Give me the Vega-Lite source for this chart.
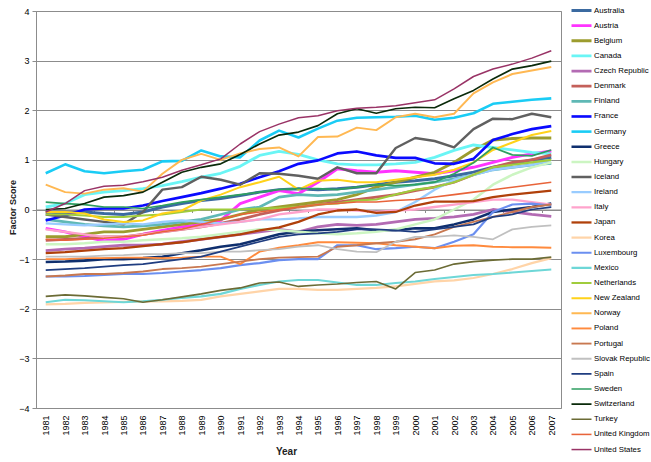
{
"$schema": "https://vega.github.io/schema/vega-lite/v6.json",
"width": 525, "height": 397,
"autosize": "none",
"padding": {"left": 36, "top": 11, "right": 90, "bottom": 54},
"background": "white",
"config": {"view": {"stroke": "#8c8c8c", "strokeWidth": 1}, "font": "Liberation Sans",
 "legend": {"orient": "none", "legendX": 534, "legendY": -8, "title": null, "symbolType": "stroke", "symbolSize": 400, "labelFontSize": 7.8, "labelColor": "#000", "clipHeight": 15, "rowPadding": 0.14, "labelOffset": 1, "padding": 0, "symbolLimit": 50, "labelLimit": 80}},
"data": {"values": [
{"country":"Australia","year":1981,"score":-0.05},{"country":"Australia","year":1982,"score":-0.07},{"country":"Australia","year":1983,"score":-0.05},{"country":"Australia","year":1984,"score":-0.08},{"country":"Australia","year":1985,"score":-0.1},{"country":"Australia","year":1986,"score":-0.05},{"country":"Australia","year":1987,"score":0.05},{"country":"Australia","year":1988,"score":0.12},{"country":"Australia","year":1989,"score":0.18},{"country":"Australia","year":1990,"score":0.22},{"country":"Australia","year":1991,"score":0.28},{"country":"Australia","year":1992,"score":0.35},{"country":"Australia","year":1993,"score":0.4},{"country":"Australia","year":1994,"score":0.42},{"country":"Australia","year":1995,"score":0.4},{"country":"Australia","year":1996,"score":0.42},{"country":"Australia","year":1997,"score":0.45},{"country":"Australia","year":1998,"score":0.5},{"country":"Australia","year":1999,"score":0.55},{"country":"Australia","year":2000,"score":0.58},{"country":"Australia","year":2001,"score":0.62},{"country":"Australia","year":2002,"score":0.68},{"country":"Australia","year":2003,"score":0.75},{"country":"Australia","year":2004,"score":0.85},{"country":"Australia","year":2005,"score":0.92},{"country":"Australia","year":2006,"score":1.0},{"country":"Australia","year":2007,"score":1.05},
{"country":"Austria","year":1981,"score":-0.38},{"country":"Austria","year":1982,"score":-0.45},{"country":"Austria","year":1983,"score":-0.55},{"country":"Austria","year":1984,"score":-0.63},{"country":"Austria","year":1985,"score":-0.6},{"country":"Austria","year":1986,"score":-0.5},{"country":"Austria","year":1987,"score":-0.42},{"country":"Austria","year":1988,"score":-0.35},{"country":"Austria","year":1989,"score":-0.3},{"country":"Austria","year":1990,"score":-0.22},{"country":"Austria","year":1991,"score":0.12},{"country":"Austria","year":1992,"score":0.25},{"country":"Austria","year":1993,"score":0.38},{"country":"Austria","year":1994,"score":0.32},{"country":"Austria","year":1995,"score":0.55},{"country":"Austria","year":1996,"score":0.82},{"country":"Austria","year":1997,"score":0.78},{"country":"Austria","year":1998,"score":0.75},{"country":"Austria","year":1999,"score":0.78},{"country":"Austria","year":2000,"score":0.75},{"country":"Austria","year":2001,"score":0.72},{"country":"Austria","year":2002,"score":0.78},{"country":"Austria","year":2003,"score":0.85},{"country":"Austria","year":2004,"score":0.95},{"country":"Austria","year":2005,"score":1.05},{"country":"Austria","year":2006,"score":1.12},{"country":"Austria","year":2007,"score":1.18},
{"country":"Belgium","year":1981,"score":-0.55},{"country":"Belgium","year":1982,"score":-0.55},{"country":"Belgium","year":1983,"score":-0.5},{"country":"Belgium","year":1984,"score":-0.45},{"country":"Belgium","year":1985,"score":-0.45},{"country":"Belgium","year":1986,"score":-0.4},{"country":"Belgium","year":1987,"score":-0.35},{"country":"Belgium","year":1988,"score":-0.3},{"country":"Belgium","year":1989,"score":-0.25},{"country":"Belgium","year":1990,"score":-0.2},{"country":"Belgium","year":1991,"score":-0.1},{"country":"Belgium","year":1992,"score":0.0},{"country":"Belgium","year":1993,"score":0.05},{"country":"Belgium","year":1994,"score":0.1},{"country":"Belgium","year":1995,"score":0.15},{"country":"Belgium","year":1996,"score":0.2},{"country":"Belgium","year":1997,"score":0.3},{"country":"Belgium","year":1998,"score":0.45},{"country":"Belgium","year":1999,"score":0.55},{"country":"Belgium","year":2000,"score":0.65},{"country":"Belgium","year":2001,"score":0.75},{"country":"Belgium","year":2002,"score":0.95},{"country":"Belgium","year":2003,"score":1.2},{"country":"Belgium","year":2004,"score":1.4},{"country":"Belgium","year":2005,"score":1.43},{"country":"Belgium","year":2006,"score":1.44},{"country":"Belgium","year":2007,"score":1.44},
{"country":"Canada","year":1981,"score":0.05},{"country":"Canada","year":1982,"score":0.12},{"country":"Canada","year":1983,"score":0.3},{"country":"Canada","year":1984,"score":0.35},{"country":"Canada","year":1985,"score":0.38},{"country":"Canada","year":1986,"score":0.42},{"country":"Canada","year":1987,"score":0.48},{"country":"Canada","year":1988,"score":0.56},{"country":"Canada","year":1989,"score":0.65},{"country":"Canada","year":1990,"score":0.73},{"country":"Canada","year":1991,"score":0.87},{"country":"Canada","year":1992,"score":1.09},{"country":"Canada","year":1993,"score":1.17},{"country":"Canada","year":1994,"score":1.11},{"country":"Canada","year":1995,"score":1.0},{"country":"Canada","year":1996,"score":0.92},{"country":"Canada","year":1997,"score":0.9},{"country":"Canada","year":1998,"score":0.9},{"country":"Canada","year":1999,"score":0.92},{"country":"Canada","year":2000,"score":0.95},{"country":"Canada","year":2001,"score":1.05},{"country":"Canada","year":2002,"score":1.19},{"country":"Canada","year":2003,"score":1.3},{"country":"Canada","year":2004,"score":1.25},{"country":"Canada","year":2005,"score":1.2},{"country":"Canada","year":2006,"score":1.15},{"country":"Canada","year":2007,"score":1.12},
{"country":"Czech Republic","year":1981,"score":-0.83},{"country":"Czech Republic","year":1982,"score":-0.8},{"country":"Czech Republic","year":1983,"score":-0.78},{"country":"Czech Republic","year":1984,"score":-0.75},{"country":"Czech Republic","year":1985,"score":-0.72},{"country":"Czech Republic","year":1986,"score":-0.72},{"country":"Czech Republic","year":1987,"score":-0.7},{"country":"Czech Republic","year":1988,"score":-0.65},{"country":"Czech Republic","year":1989,"score":-0.6},{"country":"Czech Republic","year":1990,"score":-0.55},{"country":"Czech Republic","year":1991,"score":-0.5},{"country":"Czech Republic","year":1992,"score":-0.45},{"country":"Czech Republic","year":1993,"score":-0.4},{"country":"Czech Republic","year":1994,"score":-0.45},{"country":"Czech Republic","year":1995,"score":-0.35},{"country":"Czech Republic","year":1996,"score":-0.3},{"country":"Czech Republic","year":1997,"score":-0.32},{"country":"Czech Republic","year":1998,"score":-0.3},{"country":"Czech Republic","year":1999,"score":-0.25},{"country":"Czech Republic","year":2000,"score":-0.2},{"country":"Czech Republic","year":2001,"score":-0.18},{"country":"Czech Republic","year":2002,"score":-0.15},{"country":"Czech Republic","year":2003,"score":-0.1},{"country":"Czech Republic","year":2004,"score":0.0},{"country":"Czech Republic","year":2005,"score":-0.05},{"country":"Czech Republic","year":2006,"score":-0.1},{"country":"Czech Republic","year":2007,"score":-0.14},
{"country":"Denmark","year":1981,"score":-0.62},{"country":"Denmark","year":1982,"score":-0.6},{"country":"Denmark","year":1983,"score":-0.58},{"country":"Denmark","year":1984,"score":-0.55},{"country":"Denmark","year":1985,"score":-0.55},{"country":"Denmark","year":1986,"score":-0.5},{"country":"Denmark","year":1987,"score":-0.45},{"country":"Denmark","year":1988,"score":-0.4},{"country":"Denmark","year":1989,"score":-0.35},{"country":"Denmark","year":1990,"score":-0.28},{"country":"Denmark","year":1991,"score":-0.2},{"country":"Denmark","year":1992,"score":-0.1},{"country":"Denmark","year":1993,"score":-0.02},{"country":"Denmark","year":1994,"score":0.05},{"country":"Denmark","year":1995,"score":0.1},{"country":"Denmark","year":1996,"score":0.15},{"country":"Denmark","year":1997,"score":0.2},{"country":"Denmark","year":1998,"score":0.25},{"country":"Denmark","year":1999,"score":0.3},{"country":"Denmark","year":2000,"score":0.38},{"country":"Denmark","year":2001,"score":0.45},{"country":"Denmark","year":2002,"score":0.55},{"country":"Denmark","year":2003,"score":0.7},{"country":"Denmark","year":2004,"score":0.85},{"country":"Denmark","year":2005,"score":0.95},{"country":"Denmark","year":2006,"score":1.0},{"country":"Denmark","year":2007,"score":1.1},
{"country":"Finland","year":1981,"score":-0.2},{"country":"Finland","year":1982,"score":-0.25},{"country":"Finland","year":1983,"score":-0.3},{"country":"Finland","year":1984,"score":-0.33},{"country":"Finland","year":1985,"score":-0.35},{"country":"Finland","year":1986,"score":-0.33},{"country":"Finland","year":1987,"score":-0.3},{"country":"Finland","year":1988,"score":-0.25},{"country":"Finland","year":1989,"score":-0.2},{"country":"Finland","year":1990,"score":-0.1},{"country":"Finland","year":1991,"score":0.0},{"country":"Finland","year":1992,"score":0.05},{"country":"Finland","year":1993,"score":0.25},{"country":"Finland","year":1994,"score":0.3},{"country":"Finland","year":1995,"score":0.28},{"country":"Finland","year":1996,"score":0.3},{"country":"Finland","year":1997,"score":0.35},{"country":"Finland","year":1998,"score":0.4},{"country":"Finland","year":1999,"score":0.45},{"country":"Finland","year":2000,"score":0.5},{"country":"Finland","year":2001,"score":0.55},{"country":"Finland","year":2002,"score":0.62},{"country":"Finland","year":2003,"score":0.7},{"country":"Finland","year":2004,"score":0.8},{"country":"Finland","year":2005,"score":0.85},{"country":"Finland","year":2006,"score":0.9},{"country":"Finland","year":2007,"score":0.93},
{"country":"France","year":1981,"score":-0.22},{"country":"France","year":1982,"score":-0.12},{"country":"France","year":1983,"score":0.0},{"country":"France","year":1984,"score":0.02},{"country":"France","year":1985,"score":0.02},{"country":"France","year":1986,"score":0.08},{"country":"France","year":1987,"score":0.17},{"country":"France","year":1988,"score":0.25},{"country":"France","year":1989,"score":0.33},{"country":"France","year":1990,"score":0.42},{"country":"France","year":1991,"score":0.52},{"country":"France","year":1992,"score":0.65},{"country":"France","year":1993,"score":0.77},{"country":"France","year":1994,"score":0.92},{"country":"France","year":1995,"score":0.99},{"country":"France","year":1996,"score":1.13},{"country":"France","year":1997,"score":1.17},{"country":"France","year":1998,"score":1.09},{"country":"France","year":1999,"score":1.04},{"country":"France","year":2000,"score":1.04},{"country":"France","year":2001,"score":0.93},{"country":"France","year":2002,"score":0.92},{"country":"France","year":2003,"score":1.02},{"country":"France","year":2004,"score":1.4},{"country":"France","year":2005,"score":1.52},{"country":"France","year":2006,"score":1.62},{"country":"France","year":2007,"score":1.68},
{"country":"Germany","year":1981,"score":0.73},{"country":"Germany","year":1982,"score":0.91},{"country":"Germany","year":1983,"score":0.77},{"country":"Germany","year":1984,"score":0.73},{"country":"Germany","year":1985,"score":0.77},{"country":"Germany","year":1986,"score":0.8},{"country":"Germany","year":1987,"score":0.97},{"country":"Germany","year":1988,"score":0.98},{"country":"Germany","year":1989,"score":1.19},{"country":"Germany","year":1990,"score":1.07},{"country":"Germany","year":1991,"score":1.05},{"country":"Germany","year":1992,"score":1.39},{"country":"Germany","year":1993,"score":1.59},{"country":"Germany","year":1994,"score":1.45},{"country":"Germany","year":1995,"score":1.63},{"country":"Germany","year":1996,"score":1.79},{"country":"Germany","year":1997,"score":1.85},{"country":"Germany","year":1998,"score":1.86},{"country":"Germany","year":1999,"score":1.87},{"country":"Germany","year":2000,"score":1.89},{"country":"Germany","year":2001,"score":1.81},{"country":"Germany","year":2002,"score":1.85},{"country":"Germany","year":2003,"score":1.94},{"country":"Germany","year":2004,"score":2.13},{"country":"Germany","year":2005,"score":2.17},{"country":"Germany","year":2006,"score":2.21},{"country":"Germany","year":2007,"score":2.24},
{"country":"Greece","year":1981,"score":-1.06},{"country":"Greece","year":1982,"score":-1.05},{"country":"Greece","year":1983,"score":-1.03},{"country":"Greece","year":1984,"score":-1.0},{"country":"Greece","year":1985,"score":-1.0},{"country":"Greece","year":1986,"score":-0.98},{"country":"Greece","year":1987,"score":-0.95},{"country":"Greece","year":1988,"score":-0.88},{"country":"Greece","year":1989,"score":-0.82},{"country":"Greece","year":1990,"score":-0.75},{"country":"Greece","year":1991,"score":-0.7},{"country":"Greece","year":1992,"score":-0.6},{"country":"Greece","year":1993,"score":-0.5},{"country":"Greece","year":1994,"score":-0.45},{"country":"Greece","year":1995,"score":-0.42},{"country":"Greece","year":1996,"score":-0.4},{"country":"Greece","year":1997,"score":-0.38},{"country":"Greece","year":1998,"score":-0.42},{"country":"Greece","year":1999,"score":-0.42},{"country":"Greece","year":2000,"score":-0.38},{"country":"Greece","year":2001,"score":-0.38},{"country":"Greece","year":2002,"score":-0.3},{"country":"Greece","year":2003,"score":-0.2},{"country":"Greece","year":2004,"score":-0.05},{"country":"Greece","year":2005,"score":0.0},{"country":"Greece","year":2006,"score":0.05},{"country":"Greece","year":2007,"score":0.12},
{"country":"Hungary","year":1981,"score":-0.7},{"country":"Hungary","year":1982,"score":-0.7},{"country":"Hungary","year":1983,"score":-0.68},{"country":"Hungary","year":1984,"score":-0.65},{"country":"Hungary","year":1985,"score":-0.65},{"country":"Hungary","year":1986,"score":-0.62},{"country":"Hungary","year":1987,"score":-0.6},{"country":"Hungary","year":1988,"score":-0.58},{"country":"Hungary","year":1989,"score":-0.55},{"country":"Hungary","year":1990,"score":-0.5},{"country":"Hungary","year":1991,"score":-0.45},{"country":"Hungary","year":1992,"score":-0.4},{"country":"Hungary","year":1993,"score":-0.42},{"country":"Hungary","year":1994,"score":-0.45},{"country":"Hungary","year":1995,"score":-0.48},{"country":"Hungary","year":1996,"score":-0.5},{"country":"Hungary","year":1997,"score":-0.48},{"country":"Hungary","year":1998,"score":-0.45},{"country":"Hungary","year":1999,"score":-0.4},{"country":"Hungary","year":2000,"score":-0.3},{"country":"Hungary","year":2001,"score":-0.2},{"country":"Hungary","year":2002,"score":0.0},{"country":"Hungary","year":2003,"score":0.2},{"country":"Hungary","year":2004,"score":0.5},{"country":"Hungary","year":2005,"score":0.7},{"country":"Hungary","year":2006,"score":0.85},{"country":"Hungary","year":2007,"score":0.95},
{"country":"Iceland","year":1981,"score":-0.1},{"country":"Iceland","year":1982,"score":-0.15},{"country":"Iceland","year":1983,"score":-0.2},{"country":"Iceland","year":1984,"score":-0.25},{"country":"Iceland","year":1985,"score":-0.3},{"country":"Iceland","year":1986,"score":-0.05},{"country":"Iceland","year":1987,"score":0.4},{"country":"Iceland","year":1988,"score":0.45},{"country":"Iceland","year":1989,"score":0.66},{"country":"Iceland","year":1990,"score":0.6},{"country":"Iceland","year":1991,"score":0.5},{"country":"Iceland","year":1992,"score":0.73},{"country":"Iceland","year":1993,"score":0.72},{"country":"Iceland","year":1994,"score":0.68},{"country":"Iceland","year":1995,"score":0.62},{"country":"Iceland","year":1996,"score":0.85},{"country":"Iceland","year":1997,"score":0.73},{"country":"Iceland","year":1998,"score":0.73},{"country":"Iceland","year":1999,"score":1.24},{"country":"Iceland","year":2000,"score":1.44},{"country":"Iceland","year":2001,"score":1.38},{"country":"Iceland","year":2002,"score":1.25},{"country":"Iceland","year":2003,"score":1.62},{"country":"Iceland","year":2004,"score":1.83},{"country":"Iceland","year":2005,"score":1.82},{"country":"Iceland","year":2006,"score":1.93},{"country":"Iceland","year":2007,"score":1.86},
{"country":"Ireland","year":1981,"score":-0.28},{"country":"Ireland","year":1982,"score":-0.3},{"country":"Ireland","year":1983,"score":-0.32},{"country":"Ireland","year":1984,"score":-0.3},{"country":"Ireland","year":1985,"score":-0.28},{"country":"Ireland","year":1986,"score":-0.3},{"country":"Ireland","year":1987,"score":-0.25},{"country":"Ireland","year":1988,"score":-0.22},{"country":"Ireland","year":1989,"score":-0.25},{"country":"Ireland","year":1990,"score":-0.28},{"country":"Ireland","year":1991,"score":-0.25},{"country":"Ireland","year":1992,"score":-0.2},{"country":"Ireland","year":1993,"score":-0.2},{"country":"Ireland","year":1994,"score":-0.18},{"country":"Ireland","year":1995,"score":-0.15},{"country":"Ireland","year":1996,"score":-0.15},{"country":"Ireland","year":1997,"score":-0.15},{"country":"Ireland","year":1998,"score":-0.12},{"country":"Ireland","year":1999,"score":-0.05},{"country":"Ireland","year":2000,"score":0.15},{"country":"Ireland","year":2001,"score":0.4},{"country":"Ireland","year":2002,"score":0.6},{"country":"Ireland","year":2003,"score":0.7},{"country":"Ireland","year":2004,"score":0.8},{"country":"Ireland","year":2005,"score":0.85},{"country":"Ireland","year":2006,"score":0.9},{"country":"Ireland","year":2007,"score":1.0},
{"country":"Italy","year":1981,"score":-0.4},{"country":"Italy","year":1982,"score":-0.45},{"country":"Italy","year":1983,"score":-0.5},{"country":"Italy","year":1984,"score":-0.55},{"country":"Italy","year":1985,"score":-0.55},{"country":"Italy","year":1986,"score":-0.5},{"country":"Italy","year":1987,"score":-0.45},{"country":"Italy","year":1988,"score":-0.4},{"country":"Italy","year":1989,"score":-0.35},{"country":"Italy","year":1990,"score":-0.3},{"country":"Italy","year":1991,"score":-0.25},{"country":"Italy","year":1992,"score":-0.2},{"country":"Italy","year":1993,"score":-0.1},{"country":"Italy","year":1994,"score":-0.05},{"country":"Italy","year":1995,"score":0.0},{"country":"Italy","year":1996,"score":0.0},{"country":"Italy","year":1997,"score":-0.02},{"country":"Italy","year":1998,"score":-0.05},{"country":"Italy","year":1999,"score":-0.02},{"country":"Italy","year":2000,"score":0.0},{"country":"Italy","year":2001,"score":0.05},{"country":"Italy","year":2002,"score":0.1},{"country":"Italy","year":2003,"score":0.15},{"country":"Italy","year":2004,"score":0.2},{"country":"Italy","year":2005,"score":0.2},{"country":"Italy","year":2006,"score":0.15},{"country":"Italy","year":2007,"score":0.1},
{"country":"Japan","year":1981,"score":-0.88},{"country":"Japan","year":1982,"score":-0.86},{"country":"Japan","year":1983,"score":-0.83},{"country":"Japan","year":1984,"score":-0.8},{"country":"Japan","year":1985,"score":-0.78},{"country":"Japan","year":1986,"score":-0.74},{"country":"Japan","year":1987,"score":-0.7},{"country":"Japan","year":1988,"score":-0.66},{"country":"Japan","year":1989,"score":-0.6},{"country":"Japan","year":1990,"score":-0.55},{"country":"Japan","year":1991,"score":-0.5},{"country":"Japan","year":1992,"score":-0.42},{"country":"Japan","year":1993,"score":-0.36},{"country":"Japan","year":1994,"score":-0.25},{"country":"Japan","year":1995,"score":-0.1},{"country":"Japan","year":1996,"score":-0.02},{"country":"Japan","year":1997,"score":0.0},{"country":"Japan","year":1998,"score":-0.07},{"country":"Japan","year":1999,"score":-0.05},{"country":"Japan","year":2000,"score":0.08},{"country":"Japan","year":2001,"score":0.16},{"country":"Japan","year":2002,"score":0.16},{"country":"Japan","year":2003,"score":0.17},{"country":"Japan","year":2004,"score":0.25},{"country":"Japan","year":2005,"score":0.3},{"country":"Japan","year":2006,"score":0.34},{"country":"Japan","year":2007,"score":0.38},
{"country":"Korea","year":1981,"score":-1.91},{"country":"Korea","year":1982,"score":-1.9},{"country":"Korea","year":1983,"score":-1.88},{"country":"Korea","year":1984,"score":-1.87},{"country":"Korea","year":1985,"score":-1.86},{"country":"Korea","year":1986,"score":-1.85},{"country":"Korea","year":1987,"score":-1.85},{"country":"Korea","year":1988,"score":-1.84},{"country":"Korea","year":1989,"score":-1.82},{"country":"Korea","year":1990,"score":-1.75},{"country":"Korea","year":1991,"score":-1.7},{"country":"Korea","year":1992,"score":-1.65},{"country":"Korea","year":1993,"score":-1.6},{"country":"Korea","year":1994,"score":-1.6},{"country":"Korea","year":1995,"score":-1.62},{"country":"Korea","year":1996,"score":-1.62},{"country":"Korea","year":1997,"score":-1.6},{"country":"Korea","year":1998,"score":-1.58},{"country":"Korea","year":1999,"score":-1.55},{"country":"Korea","year":2000,"score":-1.5},{"country":"Korea","year":2001,"score":-1.45},{"country":"Korea","year":2002,"score":-1.43},{"country":"Korea","year":2003,"score":-1.38},{"country":"Korea","year":2004,"score":-1.3},{"country":"Korea","year":2005,"score":-1.2},{"country":"Korea","year":2006,"score":-1.08},{"country":"Korea","year":2007,"score":-0.98},
{"country":"Luxembourg","year":1981,"score":-1.35},{"country":"Luxembourg","year":1982,"score":-1.35},{"country":"Luxembourg","year":1983,"score":-1.34},{"country":"Luxembourg","year":1984,"score":-1.32},{"country":"Luxembourg","year":1985,"score":-1.3},{"country":"Luxembourg","year":1986,"score":-1.3},{"country":"Luxembourg","year":1987,"score":-1.28},{"country":"Luxembourg","year":1988,"score":-1.25},{"country":"Luxembourg","year":1989,"score":-1.22},{"country":"Luxembourg","year":1990,"score":-1.18},{"country":"Luxembourg","year":1991,"score":-1.12},{"country":"Luxembourg","year":1992,"score":-1.08},{"country":"Luxembourg","year":1993,"score":-1.02},{"country":"Luxembourg","year":1994,"score":-1.0},{"country":"Luxembourg","year":1995,"score":-1.0},{"country":"Luxembourg","year":1996,"score":-0.72},{"country":"Luxembourg","year":1997,"score":-0.72},{"country":"Luxembourg","year":1998,"score":-0.8},{"country":"Luxembourg","year":1999,"score":-0.78},{"country":"Luxembourg","year":2000,"score":-0.75},{"country":"Luxembourg","year":2001,"score":-0.78},{"country":"Luxembourg","year":2002,"score":-0.65},{"country":"Luxembourg","year":2003,"score":-0.5},{"country":"Luxembourg","year":2004,"score":-0.05},{"country":"Luxembourg","year":2005,"score":0.1},{"country":"Luxembourg","year":2006,"score":0.12},{"country":"Luxembourg","year":2007,"score":0.08},
{"country":"Mexico","year":1981,"score":-1.87},{"country":"Mexico","year":1982,"score":-1.82},{"country":"Mexico","year":1983,"score":-1.83},{"country":"Mexico","year":1984,"score":-1.85},{"country":"Mexico","year":1985,"score":-1.87},{"country":"Mexico","year":1986,"score":-1.85},{"country":"Mexico","year":1987,"score":-1.82},{"country":"Mexico","year":1988,"score":-1.78},{"country":"Mexico","year":1989,"score":-1.75},{"country":"Mexico","year":1990,"score":-1.7},{"country":"Mexico","year":1991,"score":-1.6},{"country":"Mexico","year":1992,"score":-1.52},{"country":"Mexico","year":1993,"score":-1.45},{"country":"Mexico","year":1994,"score":-1.42},{"country":"Mexico","year":1995,"score":-1.42},{"country":"Mexico","year":1996,"score":-1.47},{"country":"Mexico","year":1997,"score":-1.52},{"country":"Mexico","year":1998,"score":-1.52},{"country":"Mexico","year":1999,"score":-1.48},{"country":"Mexico","year":2000,"score":-1.45},{"country":"Mexico","year":2001,"score":-1.4},{"country":"Mexico","year":2002,"score":-1.36},{"country":"Mexico","year":2003,"score":-1.32},{"country":"Mexico","year":2004,"score":-1.3},{"country":"Mexico","year":2005,"score":-1.27},{"country":"Mexico","year":2006,"score":-1.24},{"country":"Mexico","year":2007,"score":-1.21},
{"country":"Netherlands","year":1981,"score":-0.1},{"country":"Netherlands","year":1982,"score":-0.1},{"country":"Netherlands","year":1983,"score":-0.12},{"country":"Netherlands","year":1984,"score":-0.15},{"country":"Netherlands","year":1985,"score":-0.15},{"country":"Netherlands","year":1986,"score":-0.12},{"country":"Netherlands","year":1987,"score":-0.1},{"country":"Netherlands","year":1988,"score":-0.05},{"country":"Netherlands","year":1989,"score":0.0},{"country":"Netherlands","year":1990,"score":0.0},{"country":"Netherlands","year":1991,"score":0.0},{"country":"Netherlands","year":1992,"score":0.02},{"country":"Netherlands","year":1993,"score":0.03},{"country":"Netherlands","year":1994,"score":0.05},{"country":"Netherlands","year":1995,"score":0.1},{"country":"Netherlands","year":1996,"score":0.12},{"country":"Netherlands","year":1997,"score":0.18},{"country":"Netherlands","year":1998,"score":0.2},{"country":"Netherlands","year":1999,"score":0.3},{"country":"Netherlands","year":2000,"score":0.4},{"country":"Netherlands","year":2001,"score":0.45},{"country":"Netherlands","year":2002,"score":0.55},{"country":"Netherlands","year":2003,"score":0.7},{"country":"Netherlands","year":2004,"score":0.85},{"country":"Netherlands","year":2005,"score":0.9},{"country":"Netherlands","year":2006,"score":0.95},{"country":"Netherlands","year":2007,"score":1.0},
{"country":"New Zealand","year":1981,"score":-0.05},{"country":"New Zealand","year":1982,"score":-0.05},{"country":"New Zealand","year":1983,"score":-0.08},{"country":"New Zealand","year":1984,"score":-0.2},{"country":"New Zealand","year":1985,"score":-0.25},{"country":"New Zealand","year":1986,"score":-0.22},{"country":"New Zealand","year":1987,"score":-0.08},{"country":"New Zealand","year":1988,"score":-0.02},{"country":"New Zealand","year":1989,"score":0.18},{"country":"New Zealand","year":1990,"score":0.3},{"country":"New Zealand","year":1991,"score":0.45},{"country":"New Zealand","year":1992,"score":0.55},{"country":"New Zealand","year":1993,"score":0.66},{"country":"New Zealand","year":1994,"score":0.4},{"country":"New Zealand","year":1995,"score":0.58},{"country":"New Zealand","year":1996,"score":0.6},{"country":"New Zealand","year":1997,"score":0.55},{"country":"New Zealand","year":1998,"score":0.55},{"country":"New Zealand","year":1999,"score":0.6},{"country":"New Zealand","year":2000,"score":0.65},{"country":"New Zealand","year":2001,"score":0.7},{"country":"New Zealand","year":2002,"score":0.8},{"country":"New Zealand","year":2003,"score":0.95},{"country":"New Zealand","year":2004,"score":1.2},{"country":"New Zealand","year":2005,"score":1.35},{"country":"New Zealand","year":2006,"score":1.5},{"country":"New Zealand","year":2007,"score":1.58},
{"country":"Norway","year":1981,"score":0.5},{"country":"Norway","year":1982,"score":0.35},{"country":"Norway","year":1983,"score":0.32},{"country":"Norway","year":1984,"score":0.4},{"country":"Norway","year":1985,"score":0.43},{"country":"Norway","year":1986,"score":0.36},{"country":"Norway","year":1987,"score":0.72},{"country":"Norway","year":1988,"score":1.0},{"country":"Norway","year":1989,"score":1.12},{"country":"Norway","year":1990,"score":1.0},{"country":"Norway","year":1991,"score":1.13},{"country":"Norway","year":1992,"score":1.22},{"country":"Norway","year":1993,"score":1.25},{"country":"Norway","year":1994,"score":1.07},{"country":"Norway","year":1995,"score":1.46},{"country":"Norway","year":1996,"score":1.47},{"country":"Norway","year":1997,"score":1.65},{"country":"Norway","year":1998,"score":1.6},{"country":"Norway","year":1999,"score":1.86},{"country":"Norway","year":2000,"score":1.93},{"country":"Norway","year":2001,"score":1.86},{"country":"Norway","year":2002,"score":1.93},{"country":"Norway","year":2003,"score":2.34},{"country":"Norway","year":2004,"score":2.56},{"country":"Norway","year":2005,"score":2.73},{"country":"Norway","year":2006,"score":2.8},{"country":"Norway","year":2007,"score":2.87},
{"country":"Poland","year":1981,"score":-1.0},{"country":"Poland","year":1982,"score":-1.0},{"country":"Poland","year":1983,"score":-0.98},{"country":"Poland","year":1984,"score":-0.98},{"country":"Poland","year":1985,"score":-0.97},{"country":"Poland","year":1986,"score":-0.97},{"country":"Poland","year":1987,"score":-0.98},{"country":"Poland","year":1988,"score":-0.97},{"country":"Poland","year":1989,"score":-0.95},{"country":"Poland","year":1990,"score":-0.95},{"country":"Poland","year":1991,"score":-1.1},{"country":"Poland","year":1992,"score":-0.85},{"country":"Poland","year":1993,"score":-0.77},{"country":"Poland","year":1994,"score":-0.72},{"country":"Poland","year":1995,"score":-0.66},{"country":"Poland","year":1996,"score":-0.66},{"country":"Poland","year":1997,"score":-0.67},{"country":"Poland","year":1998,"score":-0.68},{"country":"Poland","year":1999,"score":-0.72},{"country":"Poland","year":2000,"score":-0.75},{"country":"Poland","year":2001,"score":-0.78},{"country":"Poland","year":2002,"score":-0.73},{"country":"Poland","year":2003,"score":-0.72},{"country":"Poland","year":2004,"score":-0.75},{"country":"Poland","year":2005,"score":-0.76},{"country":"Poland","year":2006,"score":-0.76},{"country":"Poland","year":2007,"score":-0.77},
{"country":"Portugal","year":1981,"score":-1.35},{"country":"Portugal","year":1982,"score":-1.33},{"country":"Portugal","year":1983,"score":-1.3},{"country":"Portugal","year":1984,"score":-1.3},{"country":"Portugal","year":1985,"score":-1.28},{"country":"Portugal","year":1986,"score":-1.25},{"country":"Portugal","year":1987,"score":-1.2},{"country":"Portugal","year":1988,"score":-1.18},{"country":"Portugal","year":1989,"score":-1.15},{"country":"Portugal","year":1990,"score":-1.1},{"country":"Portugal","year":1991,"score":-1.05},{"country":"Portugal","year":1992,"score":-1.0},{"country":"Portugal","year":1993,"score":-0.97},{"country":"Portugal","year":1994,"score":-0.96},{"country":"Portugal","year":1995,"score":-0.95},{"country":"Portugal","year":1996,"score":-0.75},{"country":"Portugal","year":1997,"score":-0.72},{"country":"Portugal","year":1998,"score":-0.68},{"country":"Portugal","year":1999,"score":-0.65},{"country":"Portugal","year":2000,"score":-0.6},{"country":"Portugal","year":2001,"score":-0.5},{"country":"Portugal","year":2002,"score":-0.35},{"country":"Portugal","year":2003,"score":-0.25},{"country":"Portugal","year":2004,"score":-0.15},{"country":"Portugal","year":2005,"score":-0.05},{"country":"Portugal","year":2006,"score":0.05},{"country":"Portugal","year":2007,"score":0.1},
{"country":"Slovak Republic","year":1981,"score":-0.95},{"country":"Slovak Republic","year":1982,"score":-0.95},{"country":"Slovak Republic","year":1983,"score":-0.95},{"country":"Slovak Republic","year":1984,"score":-0.93},{"country":"Slovak Republic","year":1985,"score":-0.92},{"country":"Slovak Republic","year":1986,"score":-0.9},{"country":"Slovak Republic","year":1987,"score":-0.9},{"country":"Slovak Republic","year":1988,"score":-0.88},{"country":"Slovak Republic","year":1989,"score":-0.88},{"country":"Slovak Republic","year":1990,"score":-0.85},{"country":"Slovak Republic","year":1991,"score":-0.85},{"country":"Slovak Republic","year":1992,"score":-0.82},{"country":"Slovak Republic","year":1993,"score":-0.8},{"country":"Slovak Republic","year":1994,"score":-0.75},{"country":"Slovak Republic","year":1995,"score":-0.72},{"country":"Slovak Republic","year":1996,"score":-0.8},{"country":"Slovak Republic","year":1997,"score":-0.85},{"country":"Slovak Republic","year":1998,"score":-0.86},{"country":"Slovak Republic","year":1999,"score":-0.65},{"country":"Slovak Republic","year":2000,"score":-0.55},{"country":"Slovak Republic","year":2001,"score":-0.55},{"country":"Slovak Republic","year":2002,"score":-0.52},{"country":"Slovak Republic","year":2003,"score":-0.55},{"country":"Slovak Republic","year":2004,"score":-0.6},{"country":"Slovak Republic","year":2005,"score":-0.4},{"country":"Slovak Republic","year":2006,"score":-0.35},{"country":"Slovak Republic","year":2007,"score":-0.32},
{"country":"Spain","year":1981,"score":-1.22},{"country":"Spain","year":1982,"score":-1.2},{"country":"Spain","year":1983,"score":-1.18},{"country":"Spain","year":1984,"score":-1.15},{"country":"Spain","year":1985,"score":-1.12},{"country":"Spain","year":1986,"score":-1.1},{"country":"Spain","year":1987,"score":-1.05},{"country":"Spain","year":1988,"score":-1.0},{"country":"Spain","year":1989,"score":-0.95},{"country":"Spain","year":1990,"score":-0.85},{"country":"Spain","year":1991,"score":-0.75},{"country":"Spain","year":1992,"score":-0.65},{"country":"Spain","year":1993,"score":-0.55},{"country":"Spain","year":1994,"score":-0.5},{"country":"Spain","year":1995,"score":-0.48},{"country":"Spain","year":1996,"score":-0.45},{"country":"Spain","year":1997,"score":-0.4},{"country":"Spain","year":1998,"score":-0.4},{"country":"Spain","year":1999,"score":-0.42},{"country":"Spain","year":2000,"score":-0.45},{"country":"Spain","year":2001,"score":-0.4},{"country":"Spain","year":2002,"score":-0.35},{"country":"Spain","year":2003,"score":-0.3},{"country":"Spain","year":2004,"score":-0.15},{"country":"Spain","year":2005,"score":-0.1},{"country":"Spain","year":2006,"score":0.0},{"country":"Spain","year":2007,"score":0.05},
{"country":"Sweden","year":1981,"score":0.15},{"country":"Sweden","year":1982,"score":0.12},{"country":"Sweden","year":1983,"score":0.1},{"country":"Sweden","year":1984,"score":0.05},{"country":"Sweden","year":1985,"score":0.05},{"country":"Sweden","year":1986,"score":0.02},{"country":"Sweden","year":1987,"score":0.08},{"country":"Sweden","year":1988,"score":0.15},{"country":"Sweden","year":1989,"score":0.2},{"country":"Sweden","year":1990,"score":0.25},{"country":"Sweden","year":1991,"score":0.3},{"country":"Sweden","year":1992,"score":0.35},{"country":"Sweden","year":1993,"score":0.4},{"country":"Sweden","year":1994,"score":0.42},{"country":"Sweden","year":1995,"score":0.42},{"country":"Sweden","year":1996,"score":0.4},{"country":"Sweden","year":1997,"score":0.45},{"country":"Sweden","year":1998,"score":0.5},{"country":"Sweden","year":1999,"score":0.48},{"country":"Sweden","year":2000,"score":0.5},{"country":"Sweden","year":2001,"score":0.55},{"country":"Sweden","year":2002,"score":0.72},{"country":"Sweden","year":2003,"score":0.94},{"country":"Sweden","year":2004,"score":1.25},{"country":"Sweden","year":2005,"score":1.1},{"country":"Sweden","year":2006,"score":1.08},{"country":"Sweden","year":2007,"score":1.2},
{"country":"Switzerland","year":1981,"score":0.0},{"country":"Switzerland","year":1982,"score":0.02},{"country":"Switzerland","year":1983,"score":0.12},{"country":"Switzerland","year":1984,"score":0.25},{"country":"Switzerland","year":1985,"score":0.28},{"country":"Switzerland","year":1986,"score":0.35},{"country":"Switzerland","year":1987,"score":0.55},{"country":"Switzerland","year":1988,"score":0.75},{"country":"Switzerland","year":1989,"score":0.85},{"country":"Switzerland","year":1990,"score":0.92},{"country":"Switzerland","year":1991,"score":1.11},{"country":"Switzerland","year":1992,"score":1.32},{"country":"Switzerland","year":1993,"score":1.5},{"country":"Switzerland","year":1994,"score":1.56},{"country":"Switzerland","year":1995,"score":1.69},{"country":"Switzerland","year":1996,"score":1.93},{"country":"Switzerland","year":1997,"score":2.03},{"country":"Switzerland","year":1998,"score":1.94},{"country":"Switzerland","year":1999,"score":2.03},{"country":"Switzerland","year":2000,"score":2.06},{"country":"Switzerland","year":2001,"score":2.05},{"country":"Switzerland","year":2002,"score":2.23},{"country":"Switzerland","year":2003,"score":2.4},{"country":"Switzerland","year":2004,"score":2.63},{"country":"Switzerland","year":2005,"score":2.83},{"country":"Switzerland","year":2006,"score":2.9},{"country":"Switzerland","year":2007,"score":2.99},
{"country":"Turkey","year":1981,"score":-1.75},{"country":"Turkey","year":1982,"score":-1.72},{"country":"Turkey","year":1983,"score":-1.74},{"country":"Turkey","year":1984,"score":-1.77},{"country":"Turkey","year":1985,"score":-1.8},{"country":"Turkey","year":1986,"score":-1.87},{"country":"Turkey","year":1987,"score":-1.82},{"country":"Turkey","year":1988,"score":-1.76},{"country":"Turkey","year":1989,"score":-1.7},{"country":"Turkey","year":1990,"score":-1.63},{"country":"Turkey","year":1991,"score":-1.58},{"country":"Turkey","year":1992,"score":-1.48},{"country":"Turkey","year":1993,"score":-1.46},{"country":"Turkey","year":1994,"score":-1.55},{"country":"Turkey","year":1995,"score":-1.52},{"country":"Turkey","year":1996,"score":-1.5},{"country":"Turkey","year":1997,"score":-1.47},{"country":"Turkey","year":1998,"score":-1.45},{"country":"Turkey","year":1999,"score":-1.6},{"country":"Turkey","year":2000,"score":-1.27},{"country":"Turkey","year":2001,"score":-1.22},{"country":"Turkey","year":2002,"score":-1.1},{"country":"Turkey","year":2003,"score":-1.05},{"country":"Turkey","year":2004,"score":-1.02},{"country":"Turkey","year":2005,"score":-1.0},{"country":"Turkey","year":2006,"score":-1.0},{"country":"Turkey","year":2007,"score":-0.96},
{"country":"United Kingdom","year":1981,"score":-0.6},{"country":"United Kingdom","year":1982,"score":-0.62},{"country":"United Kingdom","year":1983,"score":-0.6},{"country":"United Kingdom","year":1984,"score":-0.58},{"country":"United Kingdom","year":1985,"score":-0.55},{"country":"United Kingdom","year":1986,"score":-0.52},{"country":"United Kingdom","year":1987,"score":-0.45},{"country":"United Kingdom","year":1988,"score":-0.4},{"country":"United Kingdom","year":1989,"score":-0.3},{"country":"United Kingdom","year":1990,"score":-0.2},{"country":"United Kingdom","year":1991,"score":-0.1},{"country":"United Kingdom","year":1992,"score":-0.05},{"country":"United Kingdom","year":1993,"score":0.0},{"country":"United Kingdom","year":1994,"score":0.05},{"country":"United Kingdom","year":1995,"score":0.1},{"country":"United Kingdom","year":1996,"score":0.12},{"country":"United Kingdom","year":1997,"score":0.15},{"country":"United Kingdom","year":1998,"score":0.15},{"country":"United Kingdom","year":1999,"score":0.18},{"country":"United Kingdom","year":2000,"score":0.2},{"country":"United Kingdom","year":2001,"score":0.25},{"country":"United Kingdom","year":2002,"score":0.3},{"country":"United Kingdom","year":2003,"score":0.35},{"country":"United Kingdom","year":2004,"score":0.4},{"country":"United Kingdom","year":2005,"score":0.45},{"country":"United Kingdom","year":2006,"score":0.5},{"country":"United Kingdom","year":2007,"score":0.55},
{"country":"United States","year":1981,"score":-0.05},{"country":"United States","year":1982,"score":0.12},{"country":"United States","year":1983,"score":0.38},{"country":"United States","year":1984,"score":0.47},{"country":"United States","year":1985,"score":0.49},{"country":"United States","year":1986,"score":0.56},{"country":"United States","year":1987,"score":0.65},{"country":"United States","year":1988,"score":0.79},{"country":"United States","year":1989,"score":0.9},{"country":"United States","year":1990,"score":1.02},{"country":"United States","year":1991,"score":1.32},{"country":"United States","year":1992,"score":1.57},{"country":"United States","year":1993,"score":1.72},{"country":"United States","year":1994,"score":1.85},{"country":"United States","year":1995,"score":1.89},{"country":"United States","year":1996,"score":1.99},{"country":"United States","year":1997,"score":2.04},{"country":"United States","year":1998,"score":2.06},{"country":"United States","year":1999,"score":2.09},{"country":"United States","year":2000,"score":2.15},{"country":"United States","year":2001,"score":2.21},{"country":"United States","year":2002,"score":2.43},{"country":"United States","year":2003,"score":2.68},{"country":"United States","year":2004,"score":2.83},{"country":"United States","year":2005,"score":2.93},{"country":"United States","year":2006,"score":3.05},{"country":"United States","year":2007,"score":3.2}
]},
"layer": [
 {"mark": {"type": "line", "opacity": 0},
  "encoding": {
   "x": {"field": "year", "type": "ordinal", "scale": {"type": "point", "padding": 0.5},
         "axis": {"orient": "bottom", "offset": -198.5, "labels": false, "title": null, "grid": false, "domain": true, "domainColor": "#8c8c8c", "ticks": true, "tickColor": "#8c8c8c", "tickSize": 3, "tickOffset": 9.72}},
   "y": {"field": "score", "type": "quantitative", "scale": {"domain": [-4, 4], "nice": false},
         "axis": {"title": "Factor Score", "values": [-4, -3, -2, -1, 0, 1, 2, 3, 4], "grid": true, "gridColor": "#8c8c8c", "domainColor": "#8c8c8c", "tickColor": "#8c8c8c", "tickSize": 4, "labelFontSize": 9, "labelColor": "#000", "labelPadding": 3, "titleFontSize": 9, "titleFontWeight": "bold", "titleColor": "#222", "titleX": -24, "titleY": 196, "titleBaseline": "middle"}},
   "detail": {"field": "country"}
  }},
 {"mark": {"type": "line", "strokeJoin": "round"},
  "encoding": {
   "x": {"field": "year", "type": "ordinal", "scale": {"type": "point", "padding": 0.5},
         "axis": {"orient": "bottom", "title": "Year", "labelAngle": 270, "labelAlign": "right", "labelBaseline": "middle", "labelFontSize": 9, "labelColor": "#000", "labelPadding": 7, "ticks": false, "domain": false, "grid": false, "titleFontSize": 10, "titleFontWeight": "bold", "titleColor": "#222", "titleX": 250, "titleY": 38}},
   "y": {"field": "score", "type": "quantitative", "scale": {"domain": [-4, 4], "nice": false},
         "axis": {"title": "Factor Score", "values": [-4, -3, -2, -1, 0, 1, 2, 3, 4], "grid": true, "gridColor": "#8c8c8c", "domainColor": "#8c8c8c", "tickColor": "#8c8c8c", "tickSize": 4, "labelFontSize": 9, "labelColor": "#000", "labelPadding": 3, "titleFontSize": 9, "titleFontWeight": "bold", "titleColor": "#222", "titleX": -24, "titleY": 196, "titleBaseline": "middle"}},
   "color": {"field": "country", "type": "nominal",
     "scale": {"domain": ["Australia","Austria","Belgium","Canada","Czech Republic","Denmark","Finland","France","Germany","Greece","Hungary","Iceland","Ireland","Italy","Japan","Korea","Luxembourg","Mexico","Netherlands","New Zealand","Norway","Poland","Portugal","Slovak Republic","Spain","Sweden","Switzerland","Turkey","United Kingdom","United States"],
       "range": ["#3B6AA0","#FF33FF","#9C9C2E","#6AF5F5","#B36BB3","#C4605A","#5FB8B5","#0A0AFF","#1ACCF5","#0F2F6E","#CCF5C2","#606060","#99CCFF","#FFA3CC","#B0400A","#FFD4A8","#6B8FF0","#6ED7D7","#A0CC3C","#FFD21A","#FFB852","#FF8A3D","#C87850","#C0C0C0","#1F3D80","#2E9E60","#0A2A0A","#6B6B35","#E8643A","#993366"]}},
   "strokeWidth": {"field": "country", "type": "nominal",
     "scale": {"domain": ["Australia","Austria","Belgium","Canada","Czech Republic","Denmark","Finland","France","Germany","Greece","Hungary","Iceland","Ireland","Italy","Japan","Korea","Luxembourg","Mexico","Netherlands","New Zealand","Norway","Poland","Portugal","Slovak Republic","Spain","Sweden","Switzerland","Turkey","United Kingdom","United States"],
       "range": [3,1.5,1.5,1.5,1.7,1.5,1.5,3,3,3,1.5,1.7,1.5,1.5,3,1.5,1.5,1.5,1.5,1.5,1.5,1.5,1.5,1.5,3,3,3,1.5,1.5,3]}}
  }}
],
"resolve": {"axis": {"x": "independent"}}
}
